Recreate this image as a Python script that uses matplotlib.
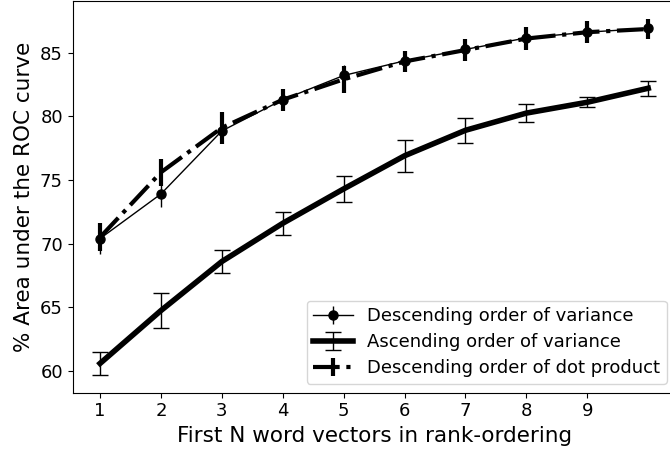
import matplotlib
matplotlib.use("Agg")
import matplotlib.pyplot as plt

# first N word vectors
n_vectors = [1, 2, 3, 4, 5, 6, 7, 8, 9, 10]

# descending order of variance
desc_var = [70.4, 73.9, 78.85, 81.3, 83.2, 84.35, 85.25, 86.15, 86.6, 86.9]
desc_var_err = [1.2, 1.0, 0.9, 0.8, 0.8, 0.7, 0.8, 0.8, 0.8, 0.7]

# ascending order of variance
asc_var = [60.6, 64.75, 68.6, 71.6, 74.3, 76.9, 78.9, 80.25, 81.1, 82.2]
asc_var_err = [0.9, 1.4, 0.9, 0.9, 1.0, 1.27, 1.0, 0.68, 0.38, 0.6]

# descending order of dot product
desc_dot = [70.5, 75.6, 79.1, 81.3, 82.9, 84.3, 85.2, 86.1, 86.6, 86.85]
desc_dot_err = [1.1, 1.06, 1.26, 0.87, 1.06, 0.8, 0.9, 0.9, 0.87, 0.8]

xticks = [1, 2, 3, 4, 5, 6, 7, 8, 9]

fig = plt.figure(figsize=(6.7, 4.53), dpi=100)
ax = fig.add_axes([0.1084, 0.1331, 0.900, 0.8647])

ax.errorbar(n_vectors, desc_var, yerr=desc_var_err, color='black',
            marker='o', markersize=6.5, linewidth=1, elinewidth=1,
            label='Descending order of variance')
ax.errorbar(n_vectors, asc_var, yerr=asc_var_err, color='black',
            linewidth=4, elinewidth=1, capsize=6, capthick=1,
            label='Ascending order of variance')
ax.errorbar(n_vectors, desc_dot, yerr=desc_dot_err, color='black',
            linestyle='-.', linewidth=3, elinewidth=3,
            label='Descending order of dot product')

ax.set_xticks(xticks)
ax.tick_params(labelsize=13)
ax.set_xlabel('First N word vectors in rank-ordering', fontsize=15.5)
ax.set_ylabel('% Area under the ROC curve', fontsize=15.5)
ax.legend(loc='lower right', fontsize=13, handlelength=2.2,
          borderpad=0.35, labelspacing=0.45)

fig.savefig('out.png', dpi=100)
